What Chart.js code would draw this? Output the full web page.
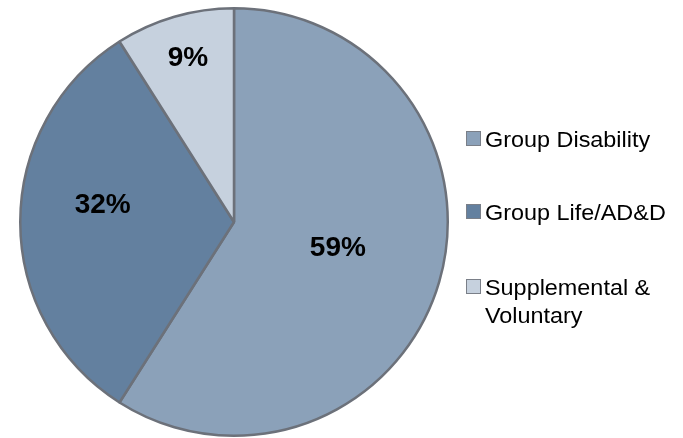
<!DOCTYPE html>
<html>
<head>
<meta charset="utf-8">
<script src="https://cdn.jsdelivr.net/npm/chart.js@4.4.1/dist/chart.umd.min.js"></script>
<style>
  html, body { margin: 0; padding: 0; background: #fff; }
  #wrap { width: 683px; height: 438px; }
</style>
</head>
<body>
<div id="wrap"><canvas id="pie"></canvas></div>
<script>
const categories = ['Group Disability', 'Group Life/AD&D', ['Supplemental &', 'Voluntary']];
const shares = [59, 32, 9];
const sliceColors = ['#8BA1B9', '#63809F', '#C6D1DE'];

// percent labels inside the slices (radius fraction + small angle nudge in degrees)
const pctLabels = {
  id: 'pctLabels',
  afterDatasetsDraw(chart, args, opts) {
    const ctx = chart.ctx;
    const arcs = chart.getDatasetMeta(0).data;
    ctx.save();
    ctx.font = 'bold 28px "Liberation Sans", Arial, sans-serif';
    ctx.fillStyle = '#000';
    ctx.textAlign = 'center';
    ctx.textBaseline = 'middle';
    arcs.forEach((arc, i) => {
      const p = arc.getProps(['x', 'y', 'startAngle', 'endAngle', 'outerRadius']);
      const pos = opts.place[i];
      const mid = (p.startAngle + p.endAngle) / 2 + pos.da * Math.PI / 180;
      const r = p.outerRadius * pos.r;
      ctx.fillText(shares[i] + '%', p.x + Math.cos(mid) * r, p.y + Math.sin(mid) * r + 1);
    });
    ctx.restore();
  }
};

// legend on the right, drawn by hand so the last label can wrap onto two lines
const sideLegend = {
  id: 'sideLegend',
  afterDraw(chart, args, opts) {
    const ctx = chart.ctx;
    ctx.save();
    ctx.textBaseline = 'alphabetic';
    ctx.textAlign = 'left';
    chart.data.labels.forEach((lab, i) => {
      const y = opts.rows[i];
      ctx.fillStyle = sliceColors[i];
      ctx.fillRect(opts.x + 0.5, y - 15.5, 14, 14);
      ctx.strokeStyle = '#7A7F88';
      ctx.lineWidth = 1;
      ctx.strokeRect(opts.x + 0.5, y - 15.5, 14, 14);
      ctx.fillStyle = '#000';
      const lines = Array.isArray(lab) ? lab : [lab];
      lines.forEach((t, k) => {
        ctx.save();
        ctx.translate(opts.x + 19, y + k * 28);
        ctx.scale(1.04, 1);
        ctx.font = '22.5px "Liberation Sans", Arial, sans-serif';
        ctx.fillText(t, 0, 0);
        ctx.restore();
      });
    });
    ctx.restore();
  }
};

new Chart(document.getElementById('pie'), {
  type: 'pie',
  data: {
    labels: categories,
    datasets: [{
      data: shares,
      backgroundColor: sliceColors,
      borderColor: '#6C717A',
      borderWidth: 2.5,
      borderAlign: 'center'
    }]
  },
  options: {
    responsive: true,
    maintainAspectRatio: false,
    animation: false,
    events: [],
    layout: { padding: { left: 19, top: 7, right: 234, bottom: 1 } },
    plugins: {
      legend: { display: false },
      tooltip: { enabled: false },
      pctLabels: {
        place: [
          { r: 0.5, da: -2.5 },
          { r: 0.62, da: 7.8 },
          { r: 0.8, da: 0.6 }
        ]
      },
      sideLegend: { x: 466, rows: [147, 220, 295] }
    }
  },
  plugins: [pctLabels, sideLegend]
});
</script>
</body>
</html>
